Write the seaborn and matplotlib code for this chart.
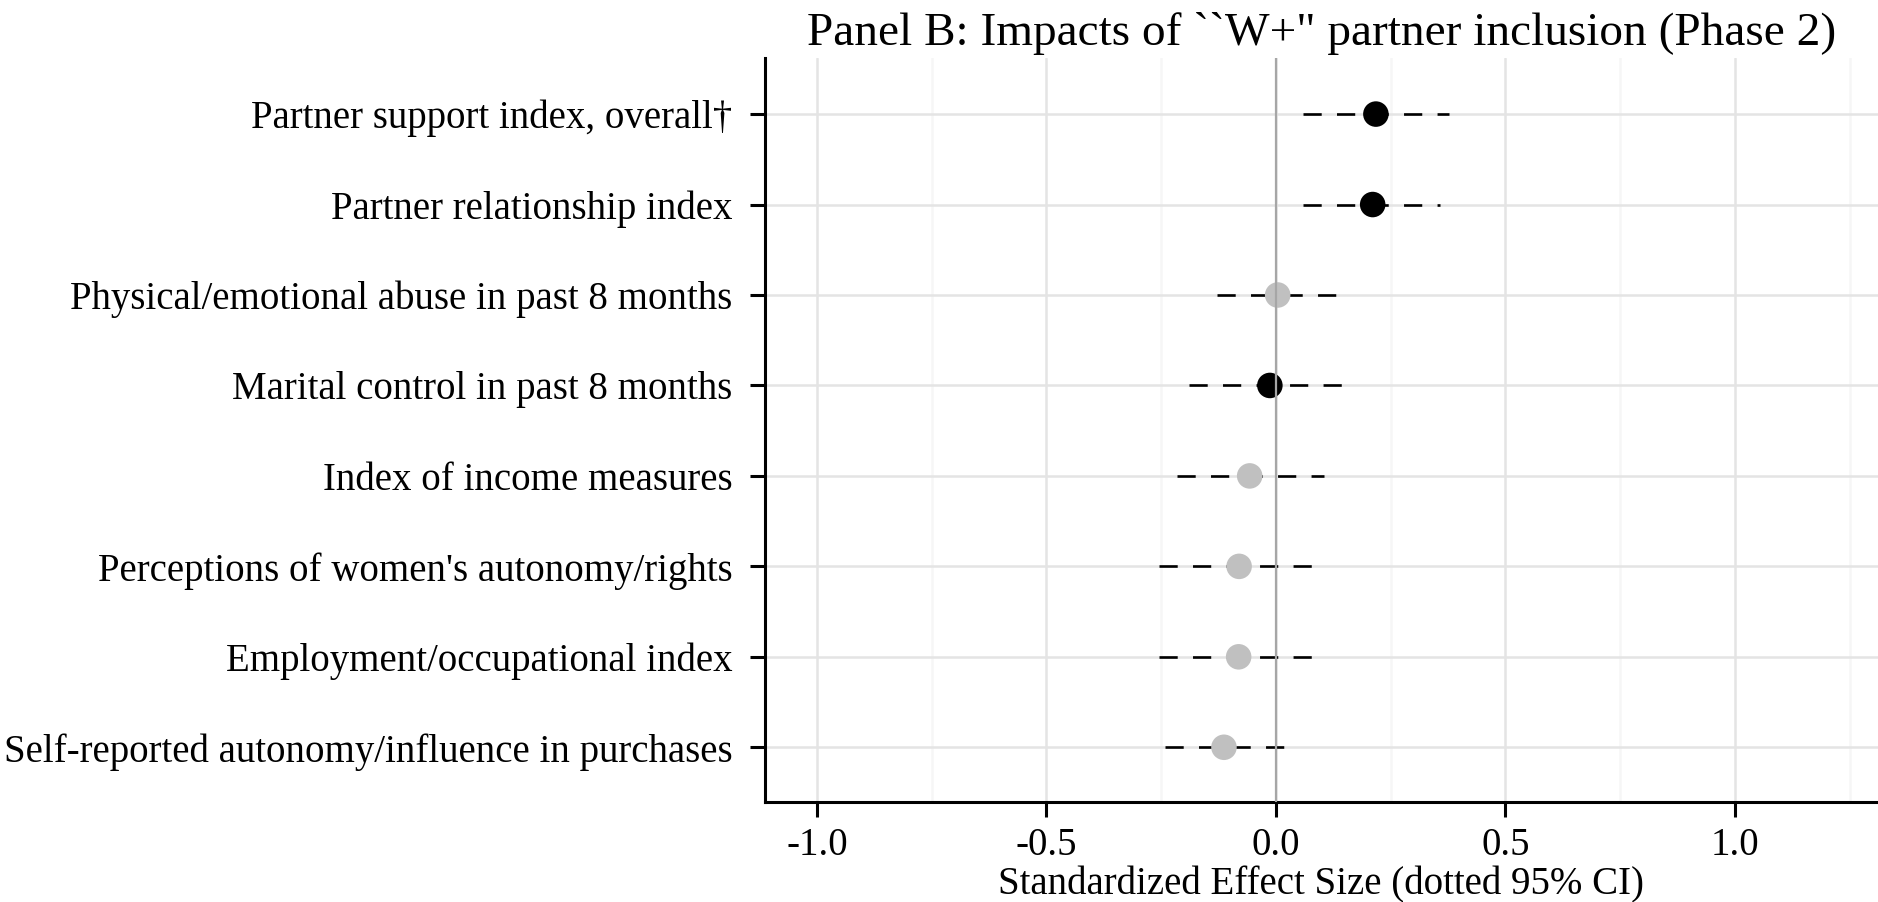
import matplotlib
matplotlib.use("Agg")
import matplotlib.pyplot as plt
import seaborn as sns
import numpy as np
import pandas as pd
from matplotlib.ticker import MultipleLocator, FixedLocator

# ---- data ----
outcomes = [
    "Partner support index, overall\u2020",
    "Partner relationship index",
    "Physical/emotional abuse in past 8 months",
    "Marital control in past 8 months",
    "Index of income measures",
    "Perceptions of women's autonomy/rights",
    "Employment/occupational index",
    "Self-reported autonomy/influence in purchases",
]
effect = [0.218, 0.211, 0.004, -0.013, -0.057, -0.080, -0.081, -0.113]
ci_low = [0.059, 0.059, -0.129, -0.190, -0.216, -0.255, -0.255, -0.242]
ci_high = [0.377, 0.357, 0.137, 0.150, 0.104, 0.078, 0.078, 0.017]
significant = [True, True, False, True, False, False, False, False]
major_ticks = [-1.0, -0.5, 0.0, 0.5, 1.0]
tick_labels = ["-1.0", "-0.5", "0.0", "0.5", "1.0"]
minor_ticks = [-0.75, -0.25, 0.25, 0.75, 1.25]
title = "Panel B: Impacts of ``W+\" partner inclusion (Phase 2)"
xlabel = "Standardized Effect Size (dotted 95% CI)"

df = pd.DataFrame({"outcome": outcomes, "effect": effect, "lo": ci_low,
                   "hi": ci_high,
                   "sig": ["sig" if s else "ns" for s in significant]})

sns.set_theme(style="white")
plt.rcParams["font.family"] = ["Liberation Serif", "DejaVu Serif"]

fig = plt.figure(figsize=(18.78, 9.02), dpi=100)
ax = fig.add_axes([765 / 1878, 1 - 802 / 902, 1 - 765 / 1878, (802 - 58) / 902])

# CI lines
ypos = np.arange(len(outcomes))
ax.hlines(ypos, df["lo"], df["hi"], colors="black", linewidth=1.9,
          linestyles=[(0, (6.9, 5.8))], zorder=3)

# points
sns.scatterplot(data=df, x="effect", y="outcome", hue="sig",
                palette={"sig": "black", "ns": "#c0c0c0"}, s=338,
                edgecolor="none", linewidth=0, legend=False, ax=ax, zorder=4)

# zero line
ax.axvline(0, color="#a6a6a6", linewidth=1.6, zorder=5)

ax.set_xlim(-1.113, 1.312)
ax.set_ylim(len(outcomes) - 1 + 0.605, -0.62)

ax.xaxis.set_major_locator(FixedLocator(major_ticks))
ax.set_xticklabels(tick_labels)
ax.xaxis.set_minor_locator(FixedLocator(minor_ticks))

ax.grid(which="major", axis="x", color="#e4e4e4", linewidth=1.8, zorder=0)
ax.grid(which="minor", axis="x", color="#f6f6f6", linewidth=1.8, zorder=0)
ax.grid(which="major", axis="y", color="#e4e4e4", linewidth=1.8, zorder=0)
ax.set_axisbelow(True)

for side in ["top", "right"]:
    ax.spines[side].set_visible(False)
for side in ["left", "bottom"]:
    ax.spines[side].set_color("black")
    ax.spines[side].set_linewidth(2.2)

ax.tick_params(axis="both", which="major", direction="out", length=10.8,
               width=2.2, color="black", labelcolor="black")
ax.tick_params(axis="y", labelsize=28, pad=12.5, left=True)
ax.tick_params(axis="x", labelsize=28, pad=7.5, bottom=True)
ax.tick_params(axis="x", which="minor", length=0)

ax.set_ylabel("")
ax.set_xlabel(xlabel, fontsize=28, labelpad=1.5, color="black")
ax.set_title(title, fontsize=34, pad=9.4, color="black")

fig.savefig("out.png", dpi=100)
